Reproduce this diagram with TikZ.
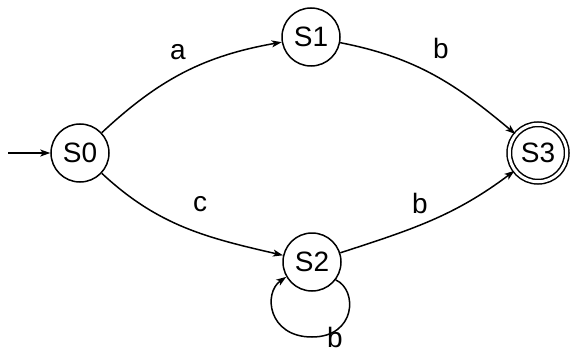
\documentclass[tikz,border=0pt]{standalone}
\usepackage{fontspec}
\setmainfont{Liberation Sans}
\usetikzlibrary{arrows.meta}
\begin{document}
\begin{tikzpicture}[x=1pt,y=-1pt,
  every node/.style={font=\fontsize{28}{32}\selectfont},
  state/.style={circle,draw,line width=1.5pt,minimum size=58pt,inner sep=0pt},
  accept/.style={circle,draw,line width=1.5pt,minimum size=57.5pt,inner sep=0pt,double,double distance=3pt},
  edge/.style={line width=1.5pt,-{Stealth[length=10pt,width=7pt,inset=2.5pt]}},
  lbl/.style={inner sep=0pt}]
\useasboundingbox (0,0) rectangle (572,350);
\node[state] (S0) at (80,153) {S0};
\node[state] (S1) at (311,37) {S1};
\node[state] (S2) at (312,262) {S2};
\node[accept] (S3) at (538,153) {S3};
\coordinate (init) at (8,153);
\coordinate (loopbot) at (312,337);
\draw[edge] (init) -- (S0);
\draw[edge] (S0) to[out=43,in=190] (S1);
\draw[edge] (S1) to[out=-11,in=140] (S3);
\draw[edge] (S0) to[out=-43,in=167] (S2);
\draw[edge] (S2) to[out=18,in=-143] (S3);
\draw[edge] (S2.-37) .. controls (358,290) and (356,337) .. (loopbot)
  .. controls (268,337) and (263,293) .. (S2.-150);
\node[lbl] (la) at (178,52) {a};
\node[lbl] (lb1) at (441,48) {b};
\node[lbl] (lc) at (200,204) {c};
\node[lbl] (lb2) at (420,203) {b};
\node[lbl] (lb3) at (335,337) {b};
\end{tikzpicture}
\end{document}
